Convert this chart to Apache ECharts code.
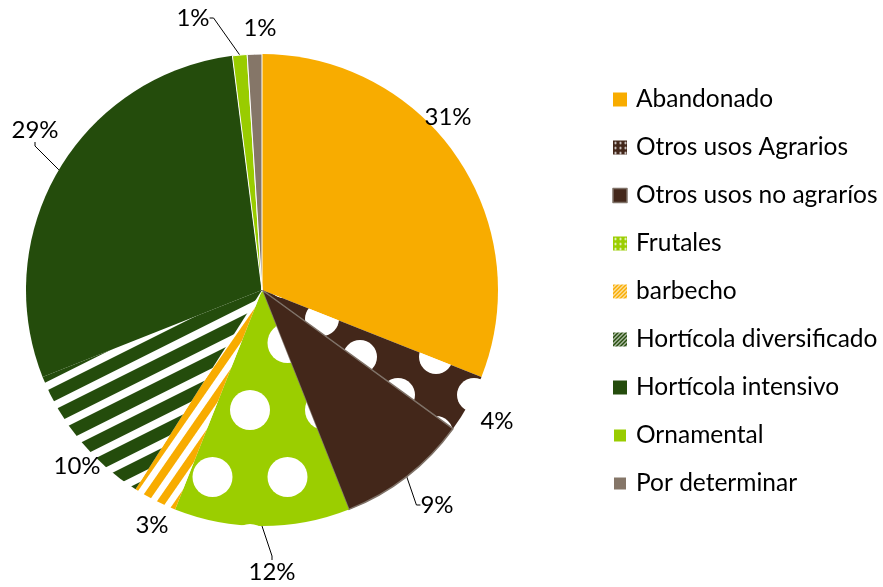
<!DOCTYPE html>
<html lang="es">
<head>
    <meta charset="UTF-8">
    <title>Usos del suelo</title>
    <script src="https://cdn.jsdelivr.net/npm/echarts@6/dist/echarts.min.js"></script>
    <style>
        html, body { margin: 0; padding: 0; background: #fff; }
        #main { width: 883px; height: 587px; }
    </style>
</head>
<body>
<div id="main"></div>
<script>
    // datos
    var categorias = ['Abandonado', 'Otros usos Agrarios', 'Otros usos no agraríos', 'Frutales',
        'barbecho', 'Hortícola diversificado', 'Hortícola intensivo', 'Ornamental', 'Por determinar'];
    var porcentajes = [31, 4, 9, 12, 3, 10, 29, 1, 1];

    // donde va cada etiqueta (centro del texto), como en el original
    var posEtiquetas = [[448, 117], [497, 421], [437, 505], [272, 572], [152, 525],
        [77, 466], [35, 130], [193, 18], [260, 28]];
    var conLinea = [false, false, true, true, false, false, true, true, false];

    // patrones de relleno (tramas tipo Excel)
    function tramaPuntos(fondo, tile, puntos, r) {
        var c = document.createElement('canvas');
        c.width = tile[0]; c.height = tile[1];
        var ctx = c.getContext('2d');
        ctx.fillStyle = fondo;
        ctx.fillRect(0, 0, c.width, c.height);
        ctx.fillStyle = '#fff';
        puntos.forEach(function (p) {
            for (var i = -1; i <= 1; i++) {
                for (var j = -1; j <= 1; j++) {
                    ctx.beginPath();
                    ctx.arc(p[0] + i * c.width, p[1] + j * c.height, r, 0, Math.PI * 2);
                    ctx.fill();
                }
            }
        });
        return { image: c, repeat: 'repeat' };
    }

    function tramaRayas(color, w, h, oscuro) {
        var c = document.createElement('canvas');
        c.width = w; c.height = h;
        var ctx = c.getContext('2d');
        var img = ctx.createImageData(w, h);
        var th = Math.atan2(h, w);
        var s = Math.sin(th), co = Math.cos(th), p = w * s;
        var rgb = [parseInt(color.substr(1, 2), 16), parseInt(color.substr(3, 2), 16), parseInt(color.substr(5, 2), 16)];
        for (var y = 0; y < h; y++) {
            for (var x = 0; x < w; x++) {
                var n = 0;
                for (var a = 0; a < 4; a++) {
                    for (var b = 0; b < 4; b++) {
                        var f = ((x + (a + 0.5) / 4) * s + (y + (b + 0.5) / 4) * co) % p;
                        if (f < oscuro * p) n++;
                    }
                }
                var k = n / 16, idx = (y * w + x) * 4;
                img.data[idx] = Math.round(255 + (rgb[0] - 255) * k);
                img.data[idx + 1] = Math.round(255 + (rgb[1] - 255) * k);
                img.data[idx + 2] = Math.round(255 + (rgb[2] - 255) * k);
                img.data[idx + 3] = 255;
            }
        }
        ctx.putImageData(img, 0, 0);
        return { image: c, repeat: 'repeat' };
    }

    var colores = [
        '#f8ac00',
        tramaPuntos('#43271a', [76, 76], [[56, 53], [18, 15]], 17),
        '#43271a',
        tramaPuntos('#9bce00', [75, 134], [[25, 8], [62.5, 75]], 20),
        tramaRayas('#f8ac00', 18, 26, 0.55),
        tramaRayas('#244c0c', 46, 23, 0.62),
        '#244c0c',
        '#99cc00',
        '#857668'
    ];
    // versiones pequeñas para la leyenda
    var coloresLeyenda = colores.slice();
    coloresLeyenda[1] = tramaPuntos('#43271a', [5, 5], [[2.5, 2.5]], 1.1);
    coloresLeyenda[3] = tramaPuntos('#9bce00', [5, 5], [[2.5, 2.5]], 1.1);
    coloresLeyenda[4] = tramaRayas('#f8ac00', 4, 4, 0.65);
    coloresLeyenda[5] = tramaRayas('#244c0c', 4, 4, 0.65);

    var datos = categorias.map(function (n, i) {
        var d = {
            name: n, value: porcentajes[i],
            itemStyle: { color: colores[i] },
            labelLine: { show: conLinea[i] }
        };
        if (i === 2) d.itemStyle.borderColor = '#7f7268', d.itemStyle.borderWidth = 1.5;
        if (i >= 7) d.itemStyle.borderColor = '#fff', d.itemStyle.borderWidth = 1;
        return d;
    });

    var leyenda = categorias.map(function (n, i) {
        var it = { name: n, itemStyle: { color: coloresLeyenda[i] } };
        if (i === 2) it.itemStyle.borderColor = '#7f7268', it.itemStyle.borderWidth = 1.5;
        return it;
    });

    var myChart = echarts.init(document.getElementById('main'));
    myChart.setOption({
        backgroundColor: '#fff',
        animation: false,
        legend: {
            orient: 'vertical',
            left: 607,
            top: 82,
            itemWidth: 14,
            itemHeight: 14,
            itemGap: 23,
            icon: 'rect',
            textStyle: { fontFamily: 'Lato', fontSize: 24.5, lineHeight: 24, color: '#000', padding: [0, 0, 0, 4] },
            data: leyenda
        },
        series: [{
            type: 'pie',
            center: [262, 290],
            radius: 236,
            startAngle: 90,
            clockwise: true,
            label: {
                show: true,
                position: 'outside',
                formatter: '{c}%',
                fontFamily: 'Lato',
                fontSize: 24,
                color: '#000',
                overflow: 'none'
            },
            labelLine: {
                show: true,
                length: 10,
                length2: 4,
                lineStyle: { color: '#000', width: 1 }
            },
            labelLayout: function (p) {
                var q = posEtiquetas[p.dataIndex];
                return { x: q[0], y: q[1], align: 'center', verticalAlign: 'middle' };
            },
            data: datos
        }]
    });
</script>
</body>
</html>
